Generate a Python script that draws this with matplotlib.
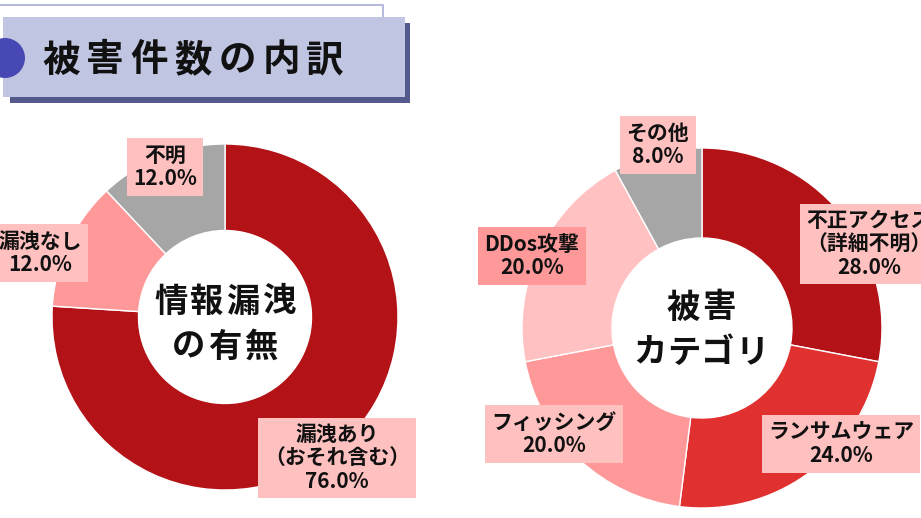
import matplotlib
matplotlib.use('Agg')
import matplotlib.pyplot as plt
from matplotlib.patches import Rectangle, Circle

plt.rcParams['font.family'] = ['Noto Sans CJK JP', 'DejaVu Sans']

# ---------------- data ----------------
title = '被害件数の内訳'

leak_labels = ['漏洩あり\n（おそれ含む）', '漏洩なし', '不明']
leak_values = [76.0, 12.0, 12.0]
leak_colors = ['#B31217', '#FF9999', '#A6A6A6']
leak_center = ['情報漏洩', 'の有無']

cat_labels = ['不正アクセス\n（詳細不明）', 'ランサムウェア', 'フィッシング', 'DDos攻撃', 'その他']
cat_values = [28.0, 24.0, 20.0, 20.0, 8.0]
cat_colors = ['#B31217', '#E03030', '#FF9999', '#FFC1C1', '#A6A6A6']
cat_center = ['被害', 'カテゴリ']

# ---------------- layout (pixels, top-left origin) ----------------
W, H = 921, 518
def Y(y):
    return H - y

leak_pos = dict(center=(225, 317), radius=173)
cat_pos = dict(center=(702, 328), radius=180)
leak_label_xy = [(337, 458), (40, 253), (165, 167)]
cat_label_xy = [(869, 244), (841, 444), (554, 434), (532, 256), (658, 145)]
cat_box_colors = ['#FFC0C0', '#FFC0C0', '#FFC0C0', '#FF9999', '#FFC0C0']

fig = plt.figure(figsize=(W / 100, H / 100), dpi=100)
ax = fig.add_axes([0, 0, 1, 1])


def donut(values, colors, pos):
    cx, cy = pos['center']
    r = pos['radius']
    ax.pie(values, colors=colors, startangle=90, counterclock=False,
           center=(cx, Y(cy)), radius=r, frame=False,
           wedgeprops=dict(width=r * 0.5, edgecolor='white', linewidth=1.0))


def spaced(text, x, y, pitch, size):
    n = len(text)
    x0 = x - pitch * (n - 1) / 2
    for i, ch in enumerate(text):
        ax.text(x0 + i * pitch, Y(y), ch, ha='center', va='center',
                fontsize=size, fontweight='bold', color='#111111', zorder=5)


def labels(names, values, xy, boxcols):
    for name, v, (x, y), bc in zip(names, values, xy, boxcols):
        ax.text(x, Y(y), f'{name}\n{v:.1f}%', ha='center', va='center',
                fontsize=15, fontweight='bold', color='#111111',
                linespacing=1.15, zorder=6,
                bbox=dict(boxstyle='square,pad=0.3', fc=bc, ec='none'))


donut(leak_values, leak_colors, leak_pos)
donut(cat_values, cat_colors, cat_pos)

labels(leak_labels, leak_values, leak_label_xy, ['#FFC0C0'] * 3)
labels(cat_labels, cat_values, cat_label_xy, cat_box_colors)

spaced(leak_center[0], 225, 302, 36, 24)
spaced(leak_center[1], 225, 347, 36, 24)
spaced(cat_center[0], 701, 308, 36, 24)
spaced(cat_center[1], 701, 353, 34, 24)

# ---------------- title banner ----------------
ax.add_patch(Rectangle((-5, Y(60)), 388, 55, fc='white', ec='#A8AED8', lw=1.2, zorder=2))
ax.add_patch(Rectangle((10, Y(103)), 400, 80, fc='#555A8C', ec='none', zorder=3))
ax.add_patch(Rectangle((3, Y(97)), 402, 80, fc='#C0C6E2', ec='none', zorder=4))
ax.add_patch(Circle((5, Y(58)), 20, fc='#4848B4', ec='none', zorder=5))
spaced(title, 193, 60, 44, 27)

ax.set_xlim(0, W)
ax.set_ylim(0, H)
ax.set_aspect('equal')
ax.axis('off')

fig.savefig('out.png', dpi=100, facecolor='white')
